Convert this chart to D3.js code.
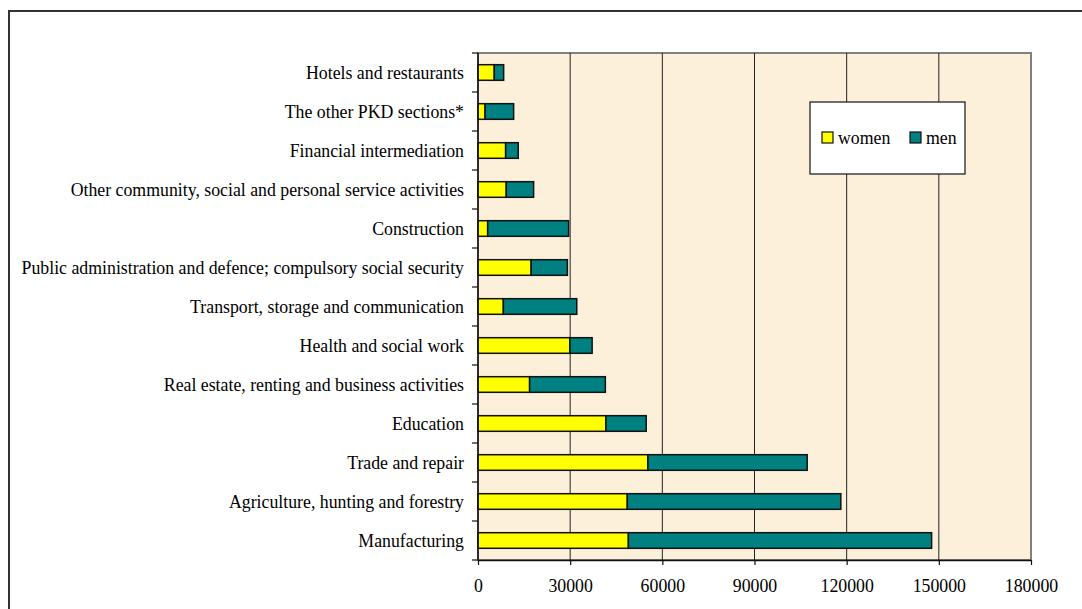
<!DOCTYPE html>
<html>
<head>
<meta charset="utf-8">
<script src="https://cdn.jsdelivr.net/npm/d3@7"></script>
<style>
  body { margin: 0; background: #fff; }
  svg { display: block; font-family: "Liberation Serif", "Times New Roman", serif; }
</style>
</head>
<body>
<div id="chart"></div>
<script>
// Data (top to bottom as shown)
const categories = [
  "Hotels and restaurants",
  "The other PKD sections*",
  "Financial intermediation",
  "Other community, social and personal service activities",
  "Construction",
  "Public administration and defence; compulsory social security",
  "Transport, storage and communication",
  "Health and social work",
  "Real estate, renting and business activities",
  "Education",
  "Trade and repair",
  "Agriculture, hunting and forestry",
  "Manufacturing"
];
const women = [5300, 2300, 9000, 9200, 3150, 17300, 8250, 29900, 16800, 41650, 55300, 48600, 48950];
const men = [3050, 9300, 4100, 8900, 26350, 11800, 23900, 7250, 24650, 13100, 51850, 69500, 98700];
const xTicks = [0, 30000, 60000, 90000, 120000, 150000, 180000];

const width = 1082, height = 609;
const plot = { left: 478, right: 1031, top: 53, bottom: 560 };
const fontSize = "17.8px";

const svg = d3.select("#chart")
  .append("svg")
  .attr("width", width)
  .attr("height", height);

// outer chart border (only top/left visible)
svg.append("rect")
  .attr("x", 9).attr("y", 11)
  .attr("width", 1100).attr("height", 640)
  .attr("fill", "#fff")
  .attr("stroke", "#333")
  .attr("stroke-width", 2);

// scales
const x = d3.scaleLinear().domain([0, 180000]).range([plot.left, plot.right]);
const y = d3.scaleBand()
  .domain(categories)
  .range([plot.top, plot.bottom])
  .paddingInner(0.6)
  .paddingOuter(0.3);

// parchment background
svg.append("rect")
  .attr("x", plot.left).attr("y", plot.top)
  .attr("width", plot.right - plot.left)
  .attr("height", plot.bottom - plot.top)
  .attr("fill", "#FCF0DB")
  .attr("stroke", "#808080")
  .attr("stroke-width", 2);

// vertical gridlines
svg.append("g")
  .selectAll("line")
  .data(xTicks.slice(1, -1))
  .enter().append("line")
  .attr("x1", d => x(d)).attr("x2", d => x(d))
  .attr("y1", plot.top).attr("y2", plot.bottom)
  .attr("stroke", "#222")
  .attr("stroke-width", 1);

// stacked bars
const stackData = categories.map((c, i) => ({ cat: c, women: women[i], men: men[i] }));
const stack = d3.stack().keys(["women", "men"])(stackData);
const color = d3.scaleOrdinal().domain(["women", "men"]).range(["#FFFF00", "#008080"]);

stack.forEach(layer => {
  svg.append("g")
    .selectAll("rect")
    .data(layer)
    .enter().append("rect")
    .attr("x", d => x(d[0]))
    .attr("y", d => y(d.data.cat))
    .attr("width", d => x(d[1]) - x(d[0]))
    .attr("height", y.bandwidth())
    .attr("fill", color(layer.key))
    .attr("stroke", "#111")
    .attr("stroke-width", 1.5);
});

// x axis
const xAxis = svg.append("g")
  .attr("transform", "translate(0," + plot.bottom + ")")
  .call(d3.axisBottom(x).tickValues(xTicks).tickFormat(d3.format("d")).tickSize(5).tickSizeOuter(0).tickPadding(14));
xAxis.select(".domain").attr("stroke", "#111").attr("stroke-width", 1.5);
xAxis.selectAll(".tick line").attr("stroke", "#111").attr("stroke-width", 1.2);
xAxis.selectAll("text").attr("font-size", fontSize).attr("font-family", "Liberation Serif").attr("fill", "#000");

// y axis line + ticks between categories
svg.append("line")
  .attr("x1", plot.left).attr("x2", plot.left)
  .attr("y1", plot.top).attr("y2", plot.bottom)
  .attr("stroke", "#111").attr("stroke-width", 1.5);

const step = y.step();
svg.append("g")
  .selectAll("line")
  .data(d3.range(categories.length + 1))
  .enter().append("line")
  .attr("x1", plot.left - 6).attr("x2", plot.left)
  .attr("y1", i => plot.top + i * step)
  .attr("y2", i => plot.top + i * step)
  .attr("stroke", "#111").attr("stroke-width", 1.2);

// category labels
svg.append("g")
  .selectAll("text")
  .data(categories)
  .enter().append("text")
  .attr("x", plot.left - 14)
  .attr("y", d => y(d) + y.bandwidth() / 2)
  .attr("dy", "0.35em")
  .attr("text-anchor", "end")
  .attr("font-size", fontSize)
  .text(d => d);

// legend
const legend = svg.append("g").attr("transform", "translate(810,102)");
legend.append("rect")
  .attr("width", 155).attr("height", 72)
  .attr("fill", "#fff").attr("stroke", "#111").attr("stroke-width", 1.2);

const legendItems = [
  { key: "women", x: 12 },
  { key: "men", x: 100 }
];
legendItems.forEach(d => {
  legend.append("rect")
    .attr("x", d.x).attr("y", 30)
    .attr("width", 11).attr("height", 11)
    .attr("fill", color(d.key))
    .attr("stroke", "#111").attr("stroke-width", 1.2);
  legend.append("text")
    .attr("x", d.x + 16).attr("y", 42)
    .attr("font-size", fontSize)
    .text(d.key);
});
</script>
</body>
</html>
